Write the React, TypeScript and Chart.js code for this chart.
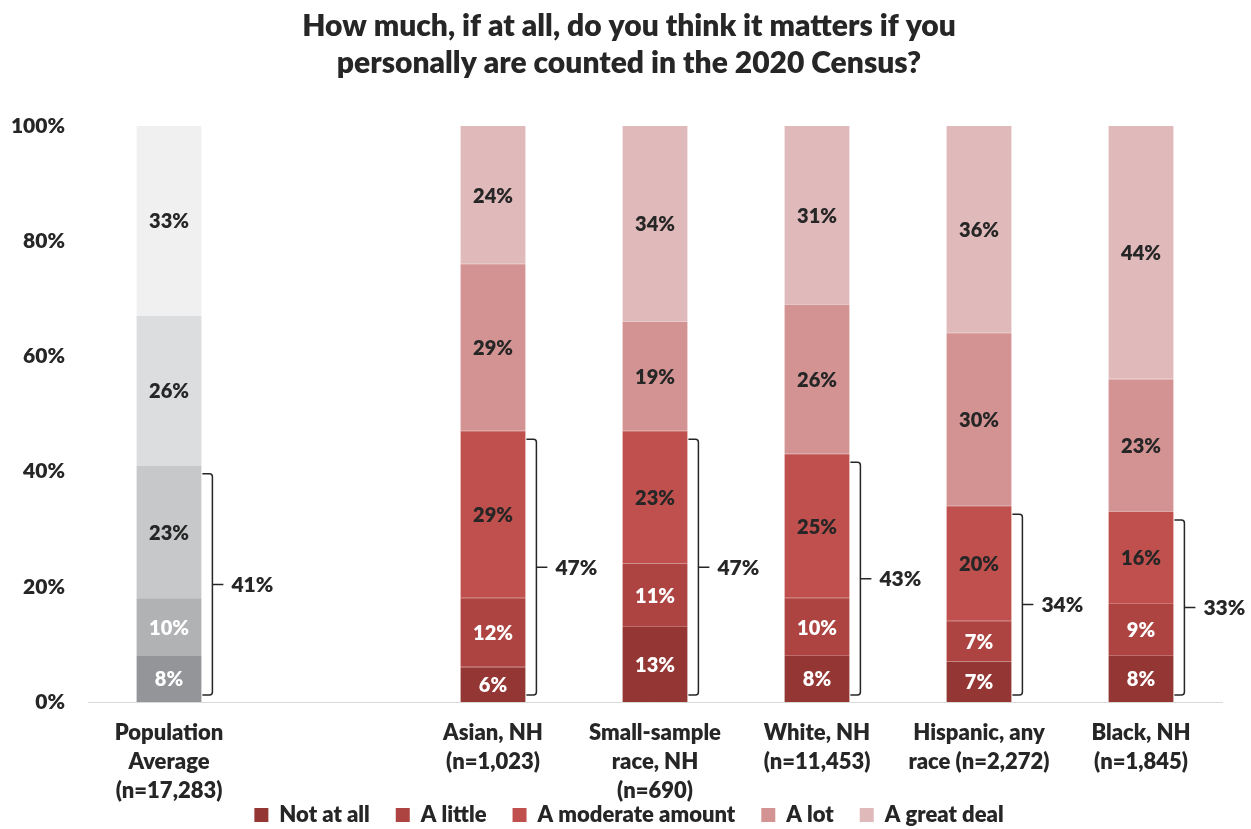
import React, { useEffect, useRef } from "react";
import { Chart, registerables } from "chart.js";

Chart.register(...registerables);

// ---------- data ----------
const categories: (string | string[])[] = [
  ["Population", "Average", "(n=17,283)"],
  "",
  ["Asian, NH", "(n=1,023)"],
  ["Small-sample", "race, NH", "(n=690)"],
  ["White, NH", "(n=11,453)"],
  ["Hispanic, any", "race (n=2,272)"],
  ["Black, NH", "(n=1,845)"],
];
const seriesNames = ["Not at all", "A little", "A moderate amount", "A lot", "A great deal"];
const notAtAll = [8, null, 6, 13, 8, 7, 8];
const aLittle = [10, null, 12, 11, 10, 7, 9];
const aModerate = [23, null, 29, 23, 25, 20, 16];
const aLot = [26, null, 29, 19, 26, 30, 23];
const aGreatDeal = [33, null, 24, 34, 31, 36, 44];
const bracketTotals = [41, null, 47, 47, 43, 34, 33];
const yTickValues = [0, 20, 40, 60, 80, 100];
const titleLines = [
  "How much, if at all, do you think it matters if you",
  "personally are counted in the 2020 Census?",
];

// ---------- styles ----------
const FONT = "Lato, 'Open Sans', sans-serif";
const W = "800";
const TEXT = "#262626";
const redColors = ["#943634", "#AD4442", "#C0504D", "#D49393", "#E0B9BA"];
const greyColors = ["#939598", "#B1B2B4", "#C7C8CA", "#DCDDDF", "#F0F0F0"];
const labelColors = ["#FFFFFF", "#FFFFFF", TEXT, TEXT, TEXT];
const GREY_INDEX = 0;
const PLOT_TOP = 126;
const PLOT_BOTTOM = 702;
const LEGEND_CENTER = 815;
const LEGEND_FONT = 22;
const LEGEND_PAD = 26;
const LEGEND_LAYOUT_H = 24;

const seriesValues = [notAtAll, aLittle, aModerate, aLot, aGreatDeal];

const segmentLabels = {
  id: "segmentLabels",
  afterDatasetsDraw(chart: any) {
    const ctx = chart.ctx;
    ctx.save();
    // faint separators between red segments
    ctx.fillStyle = "rgba(255,255,255,0.22)";
    chart.data.datasets.forEach((ds: any, di: number) => {
      if (di === 0) return;
      const meta = chart.getDatasetMeta(di);
      meta.data.forEach((el: any, i: number) => {
        if (ds.data[i] == null || i === GREY_INDEX) return;
        ctx.fillRect(el.x - el.width / 2, Math.round(el.base) - 1, el.width, 1);
      });
    });
    ctx.font = `${W} 20px ${FONT}`;
    ctx.textAlign = "center";
    ctx.textBaseline = "middle";
    chart.data.datasets.forEach((ds: any, di: number) => {
      const meta = chart.getDatasetMeta(di);
      meta.data.forEach((el: any, i: number) => {
        const v = ds.data[i];
        if (v == null) return;
        ctx.fillStyle = labelColors[di];
        ctx.fillText(`${v}%`, el.x, (el.y + el.base) / 2 + 1);
      });
    });
    ctx.restore();
  },
};

const brackets = {
  id: "brackets",
  afterDatasetsDraw(chart: any) {
    const ctx = chart.ctx;
    const y = chart.scales.y;
    const meta = chart.getDatasetMeta(0);
    ctx.save();
    ctx.strokeStyle = TEXT;
    ctx.lineWidth = 1.5;
    ctx.fillStyle = TEXT;
    ctx.font = `${W} 21px ${FONT}`;
    ctx.textAlign = "left";
    ctx.textBaseline = "middle";
    bracketTotals.forEach((t, i) => {
      if (t == null) return;
      const el = meta.data[i];
      const right = el.x + el.width / 2;
      const xv = right + 11;
      const yTop = y.getPixelForValue(t) + 8;
      const yBot = y.getPixelForValue(0) - 7;
      const mid = (yTop + yBot) / 2;
      ctx.beginPath();
      ctx.moveTo(right + 1, yTop);
      ctx.lineTo(xv - 3, yTop);
      ctx.quadraticCurveTo(xv, yTop, xv, yTop + 3);
      ctx.lineTo(xv, yBot - 3);
      ctx.quadraticCurveTo(xv, yBot, xv - 3, yBot);
      ctx.lineTo(right + 1, yBot);
      ctx.moveTo(xv, mid);
      ctx.lineTo(xv + 11, mid);
      ctx.stroke();
      ctx.fillText(`${t}%`, xv + 19, mid + 1);
    });
    ctx.restore();
  },
};

// Keep the legend compact in the layout (so the 3-line category labels are not
// clipped) and draw it at the reference's legend row.
const legendPlacement = {
  id: "legendPlacement",
  beforeLayout(chart: any) {
    const leg = chart.legend;
    if (leg && !leg.__patched) {
      const orig = leg.fit;
      leg.fit = function (this: any) {
        orig.call(this);
        this.height = LEGEND_LAYOUT_H;
      };
      leg.__patched = true;
    }
  },
  beforeDraw(chart: any) {
    const leg = chart.legend;
    if (!leg) return;
    leg.top = LEGEND_CENTER - LEGEND_FONT / 2 - LEGEND_PAD;
    leg.bottom = chart.height + 40;
  },
};

export default function App() {
  const ref = useRef<HTMLCanvasElement | null>(null);

  useEffect(() => {
    document.body.style.margin = "0";
    const canvas = ref.current;
    if (!canvas) return;
    const datasets = seriesNames.map((name, di) => ({
      label: name,
      data: seriesValues[di],
      backgroundColor: categories.map((_, i) => (i === GREY_INDEX ? greyColors[di] : redColors[di])),
      borderWidth: 0,
      categoryPercentage: 1,
      barPercentage: 0.4,
    }));
    const chart = new Chart(canvas, {
      type: "bar",
      data: { labels: categories, datasets },
      plugins: [legendPlacement, segmentLabels, brackets],
      options: {
        animation: false,
        responsive: false,
        maintainAspectRatio: false,
        layout: { padding: { left: 7, right: 0, top: 0, bottom: 0 } },
        plugins: {
          title: {
            display: true,
            text: titleLines,
            color: TEXT,
            font: { family: FONT, size: 30, weight: W, lineHeight: 37 / 30 },
            padding: { top: 8, bottom: PLOT_TOP - 8 - 74 },
          },
          legend: {
            position: "bottom",
            labels: {
              font: { family: FONT, size: LEGEND_FONT, weight: W },
              color: TEXT,
              boxWidth: 14,
              boxHeight: 14,
              padding: LEGEND_PAD,
              generateLabels: () =>
                seriesNames.map((n, i) => ({
                  text: n,
                  fillStyle: redColors[i],
                  strokeStyle: redColors[i],
                  lineWidth: 0,
                  fontColor: TEXT,
                  datasetIndex: i,
                  hidden: false,
                })),
            },
          },
          tooltip: { enabled: false },
        },
        scales: {
          x: {
            stacked: true,
            grid: { display: false, drawTicks: false },
            border: { display: true, color: "#D9D9D9", width: 1 },
            afterFit: (s: any) => {
              const c = s.chart;
              const legH = c.legend ? c.legend.height : 0;
              s.height = Math.max(10, c.height - legH - PLOT_BOTTOM);
            },
            ticks: {
              color: TEXT,
              font: { family: FONT, size: 22, weight: W, lineHeight: 29 / 22 },
              padding: 16,
              maxRotation: 0,
              autoSkip: false,
            },
          },
          y: {
            stacked: true,
            min: 0,
            max: 100,
            afterFit: (s: any) => {
              s.width = 81;
            },
            afterBuildTicks: (s: any) => {
              s.ticks = yTickValues.map((v) => ({ value: v }));
            },
            grid: { display: false, drawTicks: false },
            border: { display: false },
            ticks: {
              color: TEXT,
              font: { family: FONT, size: 21, weight: W },
              padding: 23,
              callback: (v: any) => `${v}%`,
            },
          },
          yRight: {
            type: "linear",
            position: "right",
            min: 0,
            max: 100,
            afterFit: (s: any) => {
              s.width = 29;
            },
            grid: { display: false, drawTicks: false },
            border: { display: false },
            ticks: { display: false },
          },
        },
      },
    });
    return () => chart.destroy();
  }, []);

  return (
    <div style={{ width: 1251, height: 829 }}>
      <canvas ref={ref} width={1251} height={829} />
    </div>
  );
}
